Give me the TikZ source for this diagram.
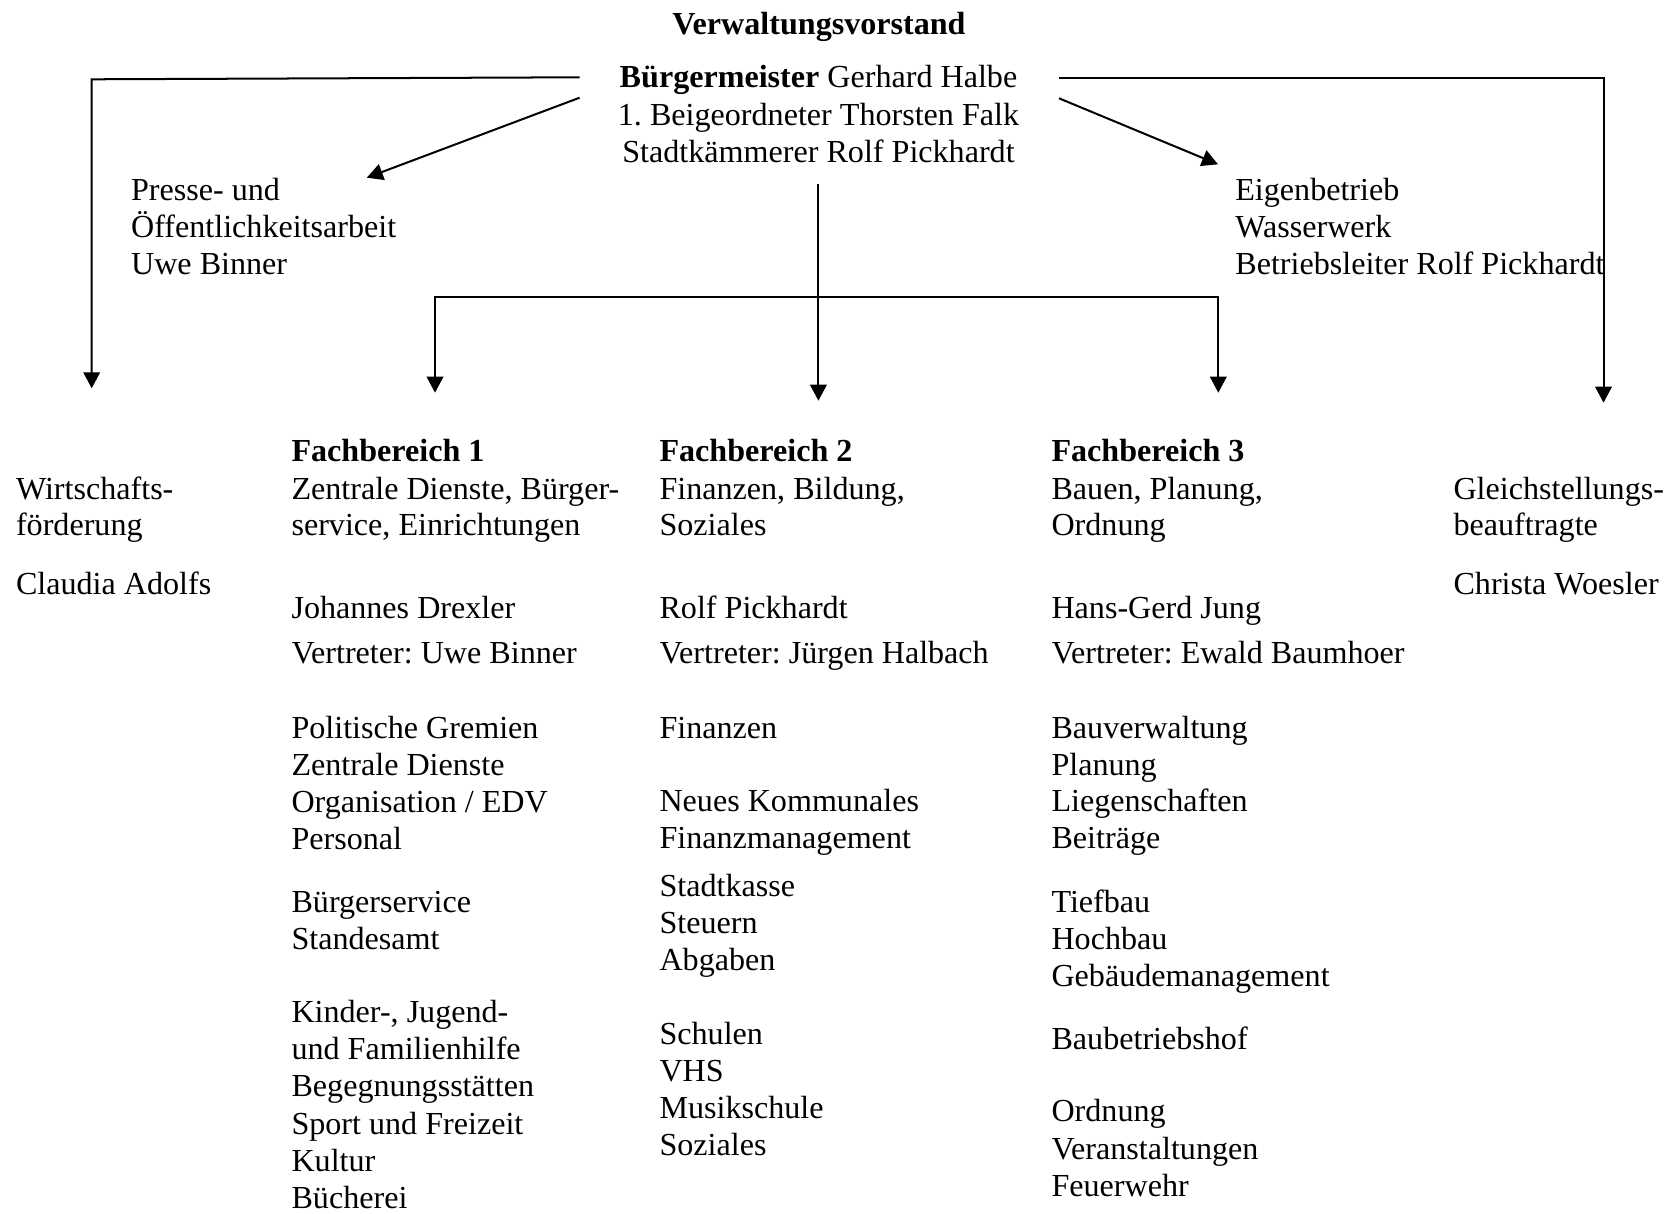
\documentclass[tikz,border=0pt]{standalone}
\usepackage{fontspec}
\setmainfont{Liberation Serif}
\usetikzlibrary{arrows.meta}
\tikzset{
  txt/.style={anchor=base west, inner sep=0pt, font=\fontsize{12pt}{14pt}\selectfont},
  btxt/.style={txt, font=\fontsize{12pt}{14pt}\selectfont\bfseries},
  ctxt/.style={anchor=base, inner sep=0pt, font=\fontsize{12pt}{14pt}\selectfont},
  tipstyle/.style={line width=0.75pt},
  conn/.style={tipstyle, -{Triangle[length=6pt,width=6.2pt]}},
  conn2/.style={tipstyle, {Triangle[length=6pt,width=6.2pt]}-{Triangle[length=6pt,width=6.2pt]}}
}
\newcommand\mylines[5]{%
  \foreach \t [count=\i from 0] in {#5} {\node[txt] (#1-\i) at (#2,{#3+\i*#4}) {\t};}%
}
\frenchspacing
\begin{document}
\frenchspacing
\begin{tikzpicture}[x=0.3738pt,y=-0.3738pt]
\useasboundingbox (0,0) rectangle (1673,1213);

% top block
\node[ctxt, font=\fontsize{12pt}{14pt}\selectfont\bfseries] (title) at (819,34.3) {Verwaltungsvorstand};
\node[ctxt] (bm) at (818.5,87.3) {\textbf{Bürgermeister} Gerhard Halbe};
\node[ctxt] (beig) at (818.5,125) {1. Beigeordneter Thorsten Falk};
\node[ctxt] (kaem) at (818.5,162.3) {Stadtkämmerer Rolf Pickhardt};

\mylines{pr}{130.6}{200}{37.2}{Presse- und, Öffentlichkeitsarbeit, Uwe Binner}
\mylines{eb}{1234.8}{200}{37.2}{Eigenbetrieb, Wasserwerk, Betriebsleiter Rolf Pickhardt}

% Wirtschaftsfoerderung
\mylines{wf}{15.5}{499}{36.5}{Wirtschafts-, förderung}
\node[txt] (wfname) at (15.5,594) {Claudia Adolfs};

% Fachbereich 1
\node[btxt] (fb1) at (291,461.7) {Fachbereich 1};
\mylines{fbA}{291}{499}{36.5}{{Zentrale Dienste, Bürger-}, {service, Einrichtungen}}
\node[txt] (fb1lead) at (291,618) {Johannes Drexler};
\node[txt] (fb1dep) at (291,663.3) {Vertreter: Uwe Binner};
\mylines{fbB}{291}{738.3}{37}{Politische Gremien, Zentrale Dienste, Organisation / EDV, Personal}
\mylines{fbC}{291}{912.7}{36.6}{Bürgerservice, Standesamt}
\mylines{fbD}{291}{1022.7}{37.1}{{Kinder-, Jugend-}, und Familienhilfe, Begegnungsstätten, Sport und Freizeit, Kultur, Bücherei}

% Fachbereich 2
\node[btxt] (fb2) at (659,461.7) {Fachbereich 2};
\mylines{fsA}{659}{499}{36.5}{{Finanzen, Bildung,}, Soziales}
\node[txt] (fb2lead) at (659,618) {Rolf Pickhardt};
\node[txt] (fb2dep) at (659,663.3) {Vertreter: Jürgen Halbach};
\node[txt] (fb2fin) at (659,738.3) {Finanzen};
\mylines{fsB}{659}{811.7}{36.6}{Neues Kommunales, Finanzmanagement}
\mylines{fsC}{659}{896.7}{37}{Stadtkasse, Steuern, Abgaben}
\mylines{fsD}{659}{1044.3}{37.2}{Schulen, VHS, Musikschule, Soziales}

% Fachbereich 3
\node[btxt] (fb3) at (1051,461.7) {Fachbereich 3};
\mylines{ftA}{1051}{499}{36.5}{{Bauen, Planung,}, Ordnung}
\node[txt] (fb3lead) at (1051,618) {Hans-Gerd Jung};
\node[txt] (fb3dep) at (1051,663.3) {Vertreter: Ewald Baumhoer};
\mylines{ftB}{1051}{738.3}{36.7}{Bauverwaltung, Planung, Liegenschaften, Beiträge}
\mylines{ftC}{1051}{912.3}{36.9}{Tiefbau, Hochbau, Gebäudemanagement}
\node[txt] (ftbh) at (1051,1049.3) {Baubetriebshof};
\mylines{ftD}{1051}{1121.7}{37.5}{Ordnung, Veranstaltungen, Feuerwehr}

% Gleichstellung
\mylines{gs}{1453}{499}{36.5}{Gleichstellungs-, beauftragte}
\node[txt] (gsname) at (1453,594) {Christa Woesler};

% connector points
\coordinate (bmW) at (579.6,77.3);
\coordinate (wfC) at (91.7,79.3);
\coordinate (wfT) at (91.7,388.3);
\coordinate (dL0) at (579.6,97.7);
\coordinate (dL1) at (366.8,177.7);
\coordinate (dR0) at (1059,98.3);
\coordinate (dR1) at (1218,164.3);
\coordinate (bmE) at (1059,77.7);
\coordinate (gsC) at (1603.5,77.7);
\coordinate (gsT) at (1603.5,402.7);
\coordinate (cTop) at (818.4,184);
\coordinate (cTip) at (818.4,400.7);
\coordinate (f1T) at (435,392.7);
\coordinate (f1C) at (435,297.3);
\coordinate (f3C) at (1218.3,297.3);
\coordinate (f3T) at (1218.3,392.7);

\draw[conn] (bmW) -- (wfC) -- (wfT);
\draw[conn] (dL0) -- (dL1);
\draw[conn] (dR0) -- (dR1);
\draw[conn] (bmE) -- (gsC) -- (gsT);
\draw[conn] (cTop) -- (cTip);
\draw[conn2] (f1T) -- (f1C) -- (f3C) -- (f3T);
\end{tikzpicture}
\end{document}
